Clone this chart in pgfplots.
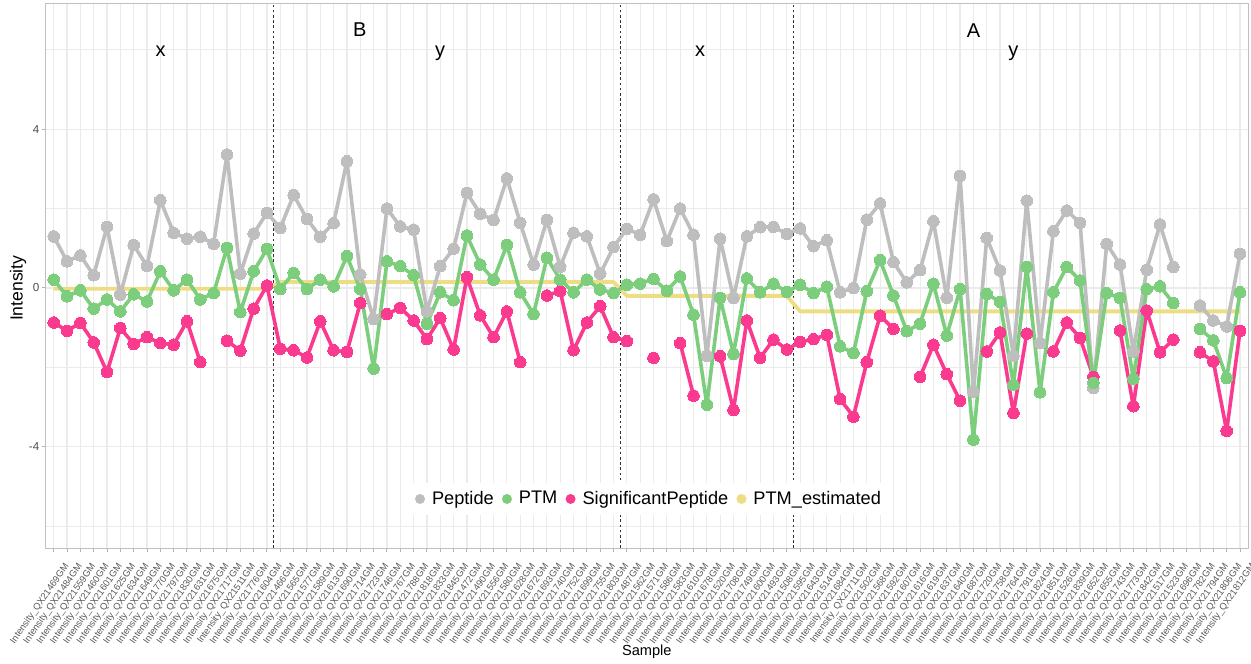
\documentclass[border=0pt]{standalone}
\usepackage{fontspec}
\setmainfont{Liberation Sans}
\usepackage{pgfplots}
\pgfplotsset{compat=1.18}
\usepackage{pgfplotstable}
\definecolor{cpep}{HTML}{BEBEBE}
\definecolor{cptm}{HTML}{7CCD7C}
\definecolor{csig}{HTML}{FA3A8E}
\definecolor{cest}{HTML}{EEDD82}
\definecolor{gridc}{HTML}{EBEBEB}
\newcommand{\sm}[1]{Intensity\_QX#1GM}

\pgfplotstableread{
i pep ptm sig est
0 1.30 0.21 -0.87 -0.02
1 0.67 -0.21 -1.08 -0.02
2 0.82 -0.06 -0.88 -0.02
3 0.32 -0.52 -1.37 -0.02
4 1.54 -0.29 -2.12 -0.02
5 -0.17 -0.59 -1.01 -0.02
6 1.08 -0.16 -1.41 -0.02
7 0.55 -0.34 -1.24 -0.02
8 2.21 0.42 -1.39 -0.02
9 1.39 -0.06 -1.43 -0.02
10 1.24 0.21 -0.84 -0.02
11 1.29 -0.29 -1.87 -0.02
12 1.11 -0.13 nan -0.02
13 3.36 1.01 -1.33 -0.02
14 0.36 -0.61 -1.58 -0.02
15 1.37 0.42 -0.52 -0.02
16 1.89 0.98 0.06 -0.02
17 1.51 -0.03 -1.53 0.15
18 2.34 0.38 -1.57 0.15
19 1.74 -0.03 -1.75 0.15
20 1.29 0.21 -0.84 0.15
21 1.63 0.04 -1.57 0.15
22 3.19 0.80 -1.61 0.15
23 0.34 -0.03 -0.38 0.15
24 -0.78 -2.03 nan 0.15
25 2.00 0.67 -0.66 0.15
26 1.55 0.55 -0.50 0.15
27 1.47 0.32 -0.82 0.15
28 -0.59 -0.91 -1.29 0.15
29 0.55 -0.11 -0.76 0.15
30 0.99 -0.31 -1.55 0.15
31 2.39 1.32 0.27 0.15
32 1.87 0.59 -0.69 0.15
33 1.71 0.21 -1.24 0.15
34 2.76 1.08 -0.59 0.15
35 1.64 -0.11 -1.87 0.15
36 0.59 -0.66 nan 0.15
37 1.71 0.76 -0.19 0.15
38 0.53 0.21 -0.08 0.15
39 1.39 -0.11 -1.57 0.15
40 1.30 0.21 -0.87 0.15
41 0.36 -0.04 -0.46 0.15
42 1.03 -0.13 -1.24 0.15
43 1.49 0.08 -1.34 -0.20
44 1.34 0.11 nan -0.20
45 2.23 0.23 -1.76 -0.20
46 1.18 -0.07 nan -0.20
47 2.00 0.29 -1.39 -0.20
48 1.34 -0.67 -2.71 -0.20
49 -1.71 -2.94 nan -0.20
50 1.24 -0.25 -1.72 -0.20
51 -0.25 -1.66 -3.07 -0.20
52 1.30 0.24 -0.82 -0.20
53 1.53 -0.11 -1.76 -0.20
54 1.54 0.11 -1.30 -0.20
55 1.36 -0.10 -1.55 -0.20
56 1.50 0.08 -1.36 -0.59
57 1.05 -0.13 -1.29 -0.59
58 1.20 0.03 -1.18 -0.59
59 -0.11 -1.47 -2.80 -0.59
60 0.00 -1.64 -3.24 -0.59
61 1.72 -0.08 -1.87 -0.59
62 2.13 0.70 -0.70 -0.59
63 0.65 -0.19 -1.03 -0.59
64 0.14 -1.09 nan -0.59
65 0.45 -0.90 -2.24 -0.59
66 1.68 0.11 -1.43 -0.59
67 -0.25 -1.20 -2.17 -0.59
68 2.82 -0.03 -2.84 -0.59
69 -2.61 -3.82 nan -0.59
70 1.26 -0.15 -1.60 -0.59
71 0.44 -0.35 -1.12 -0.59
72 -1.71 -2.44 -3.15 -0.59
73 2.20 0.53 -1.15 -0.59
74 -1.39 -2.63 nan -0.59
75 1.43 -0.11 -1.60 -0.59
76 1.95 0.53 -0.87 -0.59
77 1.64 0.19 -1.26 -0.59
78 -2.52 -2.39 -2.24 -0.59
79 1.11 -0.13 nan -0.59
80 0.59 -0.25 -1.07 -0.59
81 -1.60 -2.29 -2.98 -0.59
82 0.46 -0.03 -0.57 -0.59
83 1.60 0.04 -1.62 -0.59
84 0.53 -0.38 -1.30 -0.59
85 nan nan nan -0.59
86 -0.44 -1.03 -1.62 -0.59
87 -0.82 -1.32 -1.85 -0.59
88 -0.97 -2.27 -3.60 -0.59
89 0.86 -0.11 -1.08 -0.59
}\data

\begin{document}
\begin{tikzpicture}
\path[use as bounding box] (-22.85pt,-57.5pt) rectangle (602.65pt,274pt);
\begin{axis}[
  at={(0,0)}, anchor=south west,
  scale only axis, width=601.15pt, height=272.35pt,
  xmin=-0.6, xmax=89.6, ymin=-6.55, ymax=7.17,
  xtick={0,...,89},
  xticklabels={\sm{21469},\sm{21484},\sm{21559},\sm{21460},\sm{21601},\sm{21625},\sm{21634},\sm{21649},\sm{21770},\sm{21797},\sm{21830},\sm{21631},\sm{21675},\sm{21717},\sm{21511},\sm{21776},\sm{21604},
  \sm{21466},\sm{21565},\sm{21577},\sm{21589},\sm{21613},\sm{21690},\sm{21714},\sm{21723},\sm{21746},\sm{21767},\sm{21788},\sm{21818},\sm{21833},\sm{21845},\sm{21472},\sm{21490},\sm{21556},\sm{21580},\sm{21628},\sm{21672},\sm{21693},\sm{21740},\sm{21752},\sm{21699},\sm{21755},\sm{21803},
  \sm{21487},\sm{21562},\sm{21571},\sm{21586},\sm{21583},\sm{21610},\sm{21678},\sm{21520},\sm{21708},\sm{21749},\sm{21600},\sm{21493},\sm{21508},
  \sm{21595},\sm{21643},\sm{21514},\sm{21684},\sm{21711},\sm{21502},\sm{21568},\sm{21592},\sm{21607},\sm{21616},\sm{21619},\sm{21637},\sm{21640},\sm{21687},\sm{21720},\sm{21758},\sm{21764},\sm{21791},\sm{21824},\sm{21851},\sm{21526},\sm{21839},\sm{21652},\sm{21655},\sm{21743},\sm{21773},\sm{21842},\sm{21517},\sm{21523},\sm{21696},\sm{21782},\sm{21794},\sm{21806},\sm{21812}},
  ytick={-4,0,4}, minor ytick={-6,-2,2,6},
  grid=both,
  major grid style={gridc, line width=0.6pt},
  minor grid style={gridc, line width=0.35pt},
  axis line style={black!25, line width=0.5pt},
  tick style={black!30, line width=0.5pt},
  tick align=outside, major tick length=2pt, minor tick length=0pt,
  xtick pos=bottom, ytick pos=left,
  x tick label style={font=\fontsize{4.7}{5}\selectfont, text=black!65, xshift=4.85pt, yshift=-5pt, rotate=55, anchor=north east, inner sep=0pt},
  y tick label style={font=\fontsize{5.8}{6}\selectfont, text=black!70, inner sep=1pt},
  /pgf/number format/assume math mode=true,
  unbounded coords=jump,
  xlabel={Sample}, ylabel={Intensity},
  xlabel style={font=\fontsize{7.3}{8}\selectfont, at={(axis description cs:0.5,-0.1909)}, anchor=center},
  ylabel style={font=\fontsize{8.8}{10}\selectfont, at={(axis description cs:-0.02304,0.477)}, anchor=center},
  legend style={at={(0.5026,0.09)}, anchor=center, draw=none, fill=white, font=\fontsize{9.1}{10}\selectfont, inner sep=2pt,
    /tikz/every even column/.append style={column sep=2.1pt}},
  legend columns=4,
  line join=round,
]
\addplot[black!80, line width=0.55pt, dash pattern=on 1.3pt off 1.3pt, forget plot] coordinates {(16.5,-6.55) (16.5,7.17)};
\addplot[black!80, line width=0.55pt, dash pattern=on 1.3pt off 1.3pt, forget plot] coordinates {(42.5,-6.55) (42.5,7.17)};
\addplot[black!80, line width=0.55pt, dash pattern=on 1.3pt off 1.3pt, forget plot] coordinates {(55.5,-6.55) (55.5,7.17)};

\addplot[cest, line width=1.9pt, forget plot] table[x=i,y=est]{\data};
\addplot[cpep, line width=1.8pt, mark=*, mark size=2.9pt, mark options={solid, line width=0pt, fill=cpep, draw=cpep}, forget plot] table[x=i,y=pep]{\data};
\addplot[csig, line width=1.8pt, mark=*, mark size=2.9pt, mark options={solid, line width=0pt, fill=csig, draw=csig}, forget plot] table[x=i,y=sig]{\data};
\addplot[cptm, line width=1.8pt, mark=*, mark size=2.9pt, mark options={solid, line width=0pt, fill=cptm, draw=cptm}, forget plot] table[x=i,y=ptm]{\data};

\addlegendimage{legend image code/.code={\fill[cpep, draw=none] (0pt,0pt) circle (2.5pt); \path[draw=none, fill=none] (-2.5pt,0pt) rectangle (4pt,0.1pt);}}\addlegendentry{Peptide}
\addlegendimage{legend image code/.code={\fill[cptm, draw=none] (0pt,0pt) circle (2.5pt); \path[draw=none, fill=none] (-2.5pt,0pt) rectangle (4pt,0.1pt);}}\addlegendentry{PTM}
\addlegendimage{legend image code/.code={\fill[csig, draw=none] (0pt,0pt) circle (2.5pt); \path[draw=none, fill=none] (-2.5pt,0pt) rectangle (4pt,0.1pt);}}\addlegendentry{SignificantPeptide}
\addlegendimage{legend image code/.code={\fill[cest, draw=none] (0pt,0pt) circle (2.5pt); \path[draw=none, fill=none] (-2.5pt,0pt) rectangle (4pt,0.1pt);}}\addlegendentry{PTM\_estimated}

\node[font=\fontsize{10}{12}\selectfont, anchor=base] at (axis cs:22.96,6.33) {B};
\node[font=\fontsize{10}{12}\selectfont, anchor=base] at (axis cs:69.0,6.31) {A};
\node[font=\fontsize{10}{12}\selectfont, anchor=base] at (axis cs:8.03,5.83) {x};
\node[font=\fontsize{10}{12}\selectfont, anchor=base] at (axis cs:29.0,5.83) {y};
\node[font=\fontsize{10}{12}\selectfont, anchor=base] at (axis cs:48.5,5.83) {x};
\node[font=\fontsize{10}{12}\selectfont, anchor=base] at (axis cs:72.0,5.83) {y};
\end{axis}
\end{tikzpicture}
\end{document}
